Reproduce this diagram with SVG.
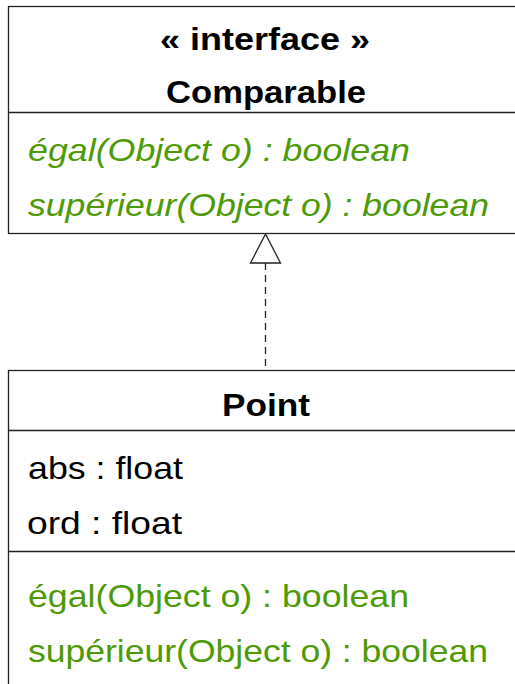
<svg xmlns="http://www.w3.org/2000/svg" width="515" height="684" viewBox="0 0 515 684">
  <style>
    .box { fill: #ffffff; stroke: #222222; stroke-width: 1.3; }
    .sep { stroke: #222222; stroke-width: 1.3; }
    .title { font-family: "Liberation Sans", Arial, sans-serif; font-weight: bold; font-size: 31px; fill: #000000; text-anchor: middle; }
    .attr { font-family: "Liberation Sans", Arial, sans-serif; font-size: 32px; fill: #000000; }
    .op { font-family: "Liberation Sans", Arial, sans-serif; font-size: 32px; fill: #4e9a06; }
    .abstract { font-style: italic; }
    .edge { fill: none; stroke: #222222; stroke-width: 1.3; }
  </style>
  <rect width="515" height="684" fill="#ffffff"/>

  <!-- interface Comparable -->
  <g id="comparable">
    <rect class="box" x="8.5" y="6.5" width="520" height="227"/>
    <line class="sep" x1="8.5" y1="112.5" x2="528" y2="112.5"/>
    <text class="title" x="265" y="50" textLength="210" lengthAdjust="spacingAndGlyphs">« interface »</text>
    <text class="title" x="266" y="103" textLength="200" lengthAdjust="spacingAndGlyphs">Comparable</text>
    <text class="op abstract" x="28" y="161" textLength="382" lengthAdjust="spacingAndGlyphs">égal(Object o) : boolean</text>
    <text class="op abstract" x="28" y="216" textLength="461" lengthAdjust="spacingAndGlyphs">supérieur(Object o) : boolean</text>
  </g>

  <!-- class Point -->
  <g id="point">
    <rect class="box" x="8.5" y="370.5" width="520" height="330"/>
    <line class="sep" x1="8.5" y1="430.5" x2="528" y2="430.5"/>
    <line class="sep" x1="8.5" y1="551.5" x2="528" y2="551.5"/>
    <text class="title" x="266" y="416" textLength="88" lengthAdjust="spacingAndGlyphs">Point</text>
    <text class="attr" x="28" y="479" textLength="155" lengthAdjust="spacingAndGlyphs">abs : float</text>
    <text class="attr" x="27" y="534" textLength="155" lengthAdjust="spacingAndGlyphs">ord : float</text>
    <text class="op" x="28" y="607" textLength="381" lengthAdjust="spacingAndGlyphs">égal(Object o) : boolean</text>
    <text class="op" x="28" y="662" textLength="460" lengthAdjust="spacingAndGlyphs">supérieur(Object o) : boolean</text>
  </g>

  <!-- realization: Point implements Comparable -->
  <g id="connectors">
    <line class="edge" x1="265.5" y1="263" x2="265.5" y2="370" stroke-dasharray="7,5"/>
    <polygon class="edge" points="265.5,234 250.5,263 280.5,263"/>
  </g>
</svg>
